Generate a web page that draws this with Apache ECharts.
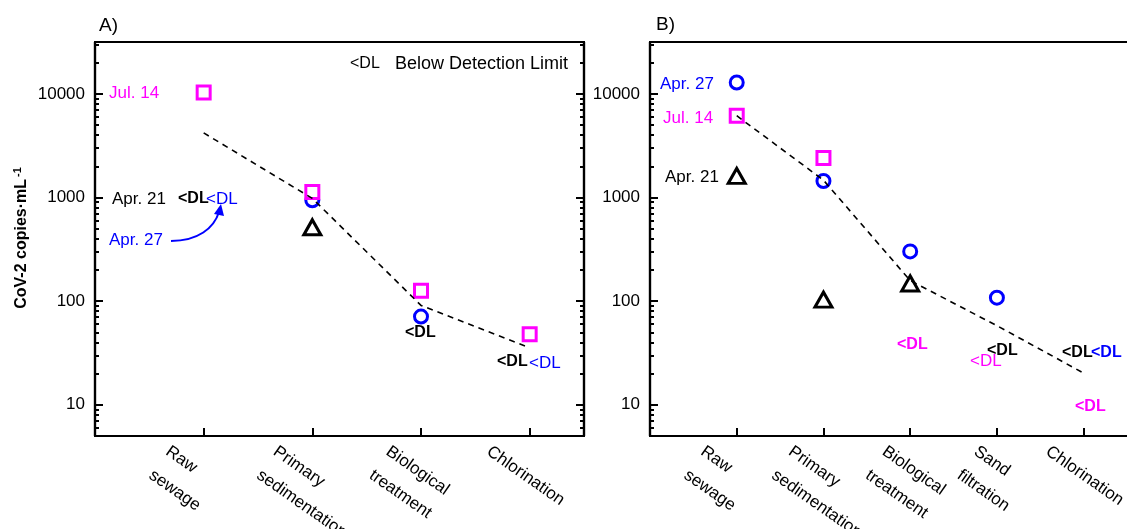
<!DOCTYPE html>
<html>
<head>
<meta charset="utf-8">
<script src="https://cdn.jsdelivr.net/npm/echarts@6/dist/echarts.min.js"></script>
<style>
html,body{margin:0;padding:0;background:#fff;}
#c{width:1127px;height:529px;}
</style>
</head>
<body>
<div id="c"></div>
<script>
// ---- data ----
const categoriesA = ['Raw\nsewage', 'Primary\nsedimentation', 'Biological\ntreatment', 'Chlorination'];
const categoriesB = ['Raw\nsewage', 'Primary\nsedimentation', 'Biological\ntreatment', 'Sand\nfiltration', 'Chlorination'];
const majorTicks = [10, 100, 1000, 10000];
const minorTicks = [6, 7, 8, 9, 20, 30, 40, 50, 60, 70, 80, 90, 200, 300, 400, 500, 600, 700, 800, 900,
  2000, 3000, 4000, 5000, 6000, 7000, 8000, 9000, 20000, 30000];

// [stage number, copies/mL]
const jul14A = [[1, 10300], [2, 1130], [3, 126], [4, 48]];
const apr27A = [[2, 940], [3, 71]];
const apr21A = [[2, 516]];
const trendA = [[1, 4200], [2, 980], [3, 91], [4, 35.5]];

const apr27B = [[1, 12870], [2, 1443], [3, 302], [4, 108]];
const jul14B = [[1, 6150], [2, 2410]];
const apr21B = [[1, 1614], [2, 103.5], [3, 148]];
const trendB = [[1, 6150], [2, 1470], [3, 158], [4, 58], [5, 20.2]];

// ---- layout / styles ----
const FONT = "'Liberation Sans', Arial, sans-serif";
const MAG = '#ff00ff', BLUE = '#0000ff', BLK = '#000000';
const labelShiftA = [-28, -29, -25, -33];
const labelShiftB = [-26, -25, -18, -13, -28];

const chart = echarts.init(document.getElementById('c'), null, {renderer: 'canvas'});

function yAxes(grid, pos, major, showLabel) {
  const base = {
    type: 'log', logBase: 10, min: 5, max: 31623, gridIndex: grid, position: pos,
    axisLine: {show: true, lineStyle: {color: BLK, width: 2.2}},
    splitLine: {show: false}
  };
  if (major) {
    return Object.assign({}, base, {
      axisTick: {show: true, inside: true, length: 8, lineStyle: {color: BLK, width: 2}, customValues: majorTicks},
      axisLabel: {show: showLabel, customValues: majorTicks, margin: 10, color: BLK, fontSize: 17, fontFamily: FONT,
        formatter: v => String(Math.round(v))}
    });
  }
  return Object.assign({}, base, {
    axisTick: {show: true, inside: true, length: 4, lineStyle: {color: BLK, width: 2}, customValues: minorTicks},
    axisLabel: {show: false}
  });
}

function xAxis(grid, max, n, pos) {
  const ticks = [];
  for (let i = 1; i <= n; i++) ticks.push(i);
  return {
    type: 'value', gridIndex: grid, min: 0, max: max, position: pos,
    axisLine: {show: true, onZero: false, lineStyle: {color: BLK, width: 2.2}},
    axisTick: {show: pos === 'bottom', inside: true, length: 8, lineStyle: {color: BLK, width: 2}, customValues: ticks},
    axisLabel: {show: false},
    splitLine: {show: false}
  };
}

function markers(name, data, symbol, color, size, xi, yi) {
  return {
    name: name, type: 'scatter', data: data, xAxisIndex: xi, yAxisIndex: yi,
    symbol: symbol, symbolSize: size,
    itemStyle: {color: '#ffffff', borderColor: color, borderWidth: 3, opacity: 1},
    z: 3, silent: true
  };
}
function trend(data, xi, yi) {
  return {
    type: 'line', data: data, xAxisIndex: xi, yAxisIndex: yi, symbol: 'none',
    lineStyle: {color: BLK, width: 1.6, type: [6, 5]}, z: 4, silent: true
  };
}

const option = {
  animation: false,
  backgroundColor: '#ffffff',
  grid: [
    {left: 95, top: 42, width: 489, height: 394},
    {left: 650, top: 42, width: 487, height: 394}
  ],
  xAxis: [
    xAxis(0, 4.5, 4, 'bottom'),
    xAxis(0, 4.5, 4, 'top'),
    xAxis(1, 5.5, 5, 'bottom'),
    xAxis(1, 5.5, 5, 'top')
  ],
  yAxis: [
    yAxes(0, 'left', true, true),
    yAxes(0, 'left', false),
    yAxes(0, 'right', true, false),
    yAxes(0, 'right', false),
    yAxes(1, 'left', true, true),
    yAxes(1, 'left', false)
  ],
  series: [
    markers('Apr. 27', apr27A, 'circle', BLUE, 13, 0, 0),
    markers('Apr. 21', apr21A, 'triangle', BLK, [17, 15], 0, 0),
    markers('Jul. 14', jul14A, 'rect', MAG, 13, 0, 0),
    trend(trendA, 0, 0),
    markers('Apr. 27', apr27B, 'circle', BLUE, 13, 2, 4),
    markers('Apr. 21', apr21B, 'triangle', BLK, [17, 15], 2, 4),
    markers('Jul. 14', jul14B, 'rect', MAG, 13, 2, 4),
    trend(trendB, 2, 4)
  ]
};
chart.setOption(option);

// ---- annotations ----
function txt(t, x, y, color, size, bold, align) {
  return {
    type: 'text', x: x, y: y, z: 10, silent: true,
    style: {text: t, fill: color, font: (bold ? 'bold ' : '') + size + 'px ' + FONT,
      align: align || 'left', verticalAlign: 'middle'}
  };
}
const g = [
  txt('A)', 99, 26, BLK, 19, false),
  txt('B)', 656, 25, BLK, 19, false),
  txt('<DL', 350, 64, BLK, 16, false),
  txt('Below Detection Limit', 395, 64, BLK, 18, false),
  txt('Jul. 14', 109, 93, MAG, 17, false),
  txt('Apr. 21', 112, 199, BLK, 17, false),
  txt('<DL', 178, 199, BLK, 16, true),
  txt('<DL', 206, 199, BLUE, 17, false),
  txt('Apr. 27', 109, 240, BLUE, 17, false),
  txt('<DL', 405, 333, BLK, 16, true),
  txt('<DL', 497, 362, BLK, 16, true),
  txt('<DL', 529, 363, BLUE, 17, false),
  txt('Apr. 27', 660, 84, BLUE, 17, false),
  txt('Jul. 14', 663, 118, MAG, 17, false),
  txt('Apr. 21', 665, 177, BLK, 17, false),
  txt('<DL', 897, 345, MAG, 16, true),
  txt('<DL', 987, 351, BLK, 16, true),
  txt('<DL', 970, 361, MAG, 17, false),
  txt('<DL', 1062, 353, BLK, 16, true),
  txt('<DL', 1091, 353, BLUE, 16, true),
  txt('<DL', 1075, 407, MAG, 16, true),
  {
    type: 'bezierCurve', z: 10, silent: true,
    shape: {x1: 171, y1: 241, cpx1: 198, cpy1: 241, cpx2: 214, cpy2: 228, x2: 219, y2: 212},
    style: {stroke: BLUE, lineWidth: 2, fill: null}
  },
  {
    type: 'polygon', z: 10, silent: true,
    shape: {points: [[221, 204], [214, 214], [224, 216]]},
    style: {fill: BLUE}
  },
  {
    type: 'text', x: 22, y: 238, rotation: Math.PI / 2, z: 10, silent: true,
    style: {
      text: '{a|CoV-2 copies·mL}{s|-1}', align: 'center', verticalAlign: 'middle',
      rich: {
        a: {font: 'bold 16px ' + FONT, fill: BLK},
        s: {font: 'bold 11px ' + FONT, fill: BLK, verticalAlign: 'top', padding: [0, 0, 9, 2]}
      }
    }
  }
];

function xLabels(cats, shifts, gridIndex) {
  cats.forEach(function (c, i) {
    const p = chart.convertToPixel({gridIndex: gridIndex}, [i + 1, 5]);
    g.push({
      type: 'text', x: p[0] + shifts[i], y: p[1] + 2, rotation: -35 * Math.PI / 180, z: 10, silent: true,
      style: {text: c, fill: BLK, font: '17px ' + FONT, align: 'left', verticalAlign: 'top', lineHeight: 29}
    });
  });
}
xLabels(categoriesA, labelShiftA, 0);
xLabels(categoriesB, labelShiftB, 1);

chart.setOption({graphic: g});
</script>
</body>
</html>
